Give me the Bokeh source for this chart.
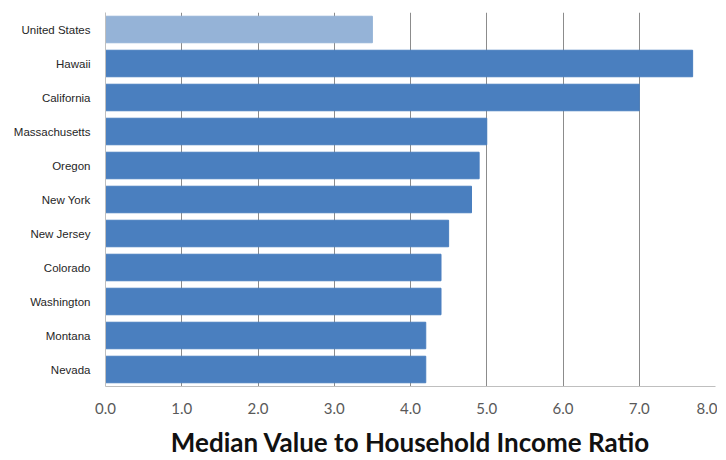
from bokeh.plotting import figure
from bokeh.models import FactorRange, Range1d, FixedTicker, ColumnDataSource, CustomJSTickFormatter
from bokeh.embed import file_html
from bokeh.resources import INLINE

states = ["United States", "Hawaii", "California", "Massachusetts", "Oregon",
          "New York", "New Jersey", "Colorado", "Washington", "Montana", "Nevada"]
ratios = [3.5, 7.7, 7.0, 5.0, 4.9, 4.8, 4.5, 4.4, 4.4, 4.2, 4.2]
colors = ["#95b3d7"] + ["#4a7fbf"] * 10
x_ticks = [0, 1, 2, 3, 4, 5, 6, 7, 8]

src = ColumnDataSource(dict(state=states, ratio=ratios, color=colors))

p = figure(width=717, height=460, output_backend="svg", toolbar_location=None,
           y_range=FactorRange(factors=list(reversed(states))),
           x_range=Range1d(0, 8),
           min_border_left=105, min_border_right=2, min_border_top=12, min_border_bottom=0)
p.hbar(y="state", right="ratio", left=0, height=0.78, color="color", source=src)

p.outline_line_color = None
p.ygrid.grid_line_color = None
p.xgrid.grid_line_color = "#8c8c8c"
p.xgrid.grid_line_width = 1

p.xaxis.ticker = FixedTicker(ticks=x_ticks)
p.xaxis.formatter = CustomJSTickFormatter(code="return tick.toFixed(1);")
p.xaxis.major_label_text_font = "Lato"
p.xaxis.major_label_text_font_size = "15px"
p.xaxis.major_label_text_color = "#595959"
p.xaxis.major_tick_out = 0
p.xaxis.major_tick_in = 0
p.xaxis.minor_tick_line_color = None
p.xaxis.major_label_standoff = 16
p.xaxis.axis_line_color = "#bfbfbf"
p.xaxis.axis_label = "Median Value to Household Income Ratio"
p.xaxis.axis_label_text_font = "Lato"
p.xaxis.axis_label_text_font_style = "bold"
p.xaxis.axis_label_text_font_size = "26px"
p.xaxis.axis_label_text_color = "#111111"
p.xaxis.axis_label_standoff = 9

p.yaxis.major_label_text_font = "Liberation Sans"
p.yaxis.major_label_text_font_size = "11.5px"
p.yaxis.major_label_text_color = "#262626"
p.yaxis.major_tick_line_color = None
p.yaxis.minor_tick_line_color = None
p.yaxis.axis_line_color = "#bfbfbf"
p.yaxis.major_label_standoff = 9

open("out.html", "w").write(file_html(p, INLINE))
